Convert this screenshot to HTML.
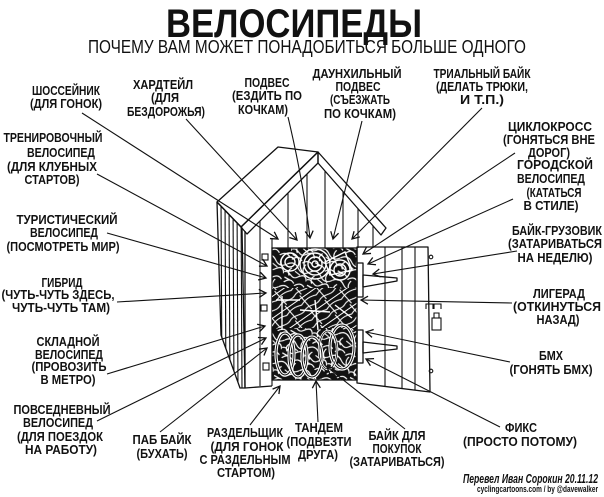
<!DOCTYPE html>
<html><head><meta charset="utf-8"><style>
html,body{margin:0;padding:0;background:#fff;}
svg{display:block;}
.t{font-family:"Liberation Sans","DejaVu Sans",sans-serif;font-weight:bold;font-size:12.5px;fill:#111;text-anchor:middle;}
.ln{stroke:#111;stroke-width:1.1;fill:none;}
.sh{stroke:#111;stroke-width:1.3;fill:none;stroke-linejoin:round;}
</style></head><body>
<svg width="604" height="497" viewBox="0 0 604 497" xmlns="http://www.w3.org/2000/svg">
<defs>
<marker id="a" viewBox="-9 -6 11 12" refX="0" refY="0" markerWidth="11" markerHeight="12" markerUnits="userSpaceOnUse" orient="auto">
<path d="M-7,-4 L0,0 L-7,4" fill="none" stroke="#111" stroke-width="1.3"/>
</marker>
<pattern id="p1" width="24" height="24" patternUnits="userSpaceOnUse" patternTransform="rotate(20)">
<rect width="24" height="24" fill="#121212"/>
<path d="M0,6 Q6,0 12,6 T24,6 M0,14 C5,10 9,20 14,15 S22,10 24,16 M3,24 Q8,17 13,22 M14,24 Q19,18 24,22 M18,0 Q15,6 20,10 M6,8 Q2,12 6,16 M10,10 L16,12 M2,19 L8,20" stroke="#fff" stroke-width="1.15" fill="none"/>
</pattern>
<pattern id="p2" width="18" height="18" patternUnits="userSpaceOnUse" patternTransform="rotate(-35)">
<rect width="18" height="18" fill="#121212"/>
<path d="M0,3 L18,3 M0,9 Q9,5 18,9 M0,15 C6,12 12,18 18,15 M4,0 L6,18" stroke="#fff" stroke-width="1.05" fill="none"/>
</pattern>
<clipPath id="op"><rect x="272" y="248" width="85" height="132"/></clipPath>
<clipPath id="lw"><polygon points="217,202 242,228 245,388 240,388 221,335"/></clipPath>
<clipPath id="dr"><polygon points="357,247 428,247 430,392 357,383"/></clipPath>
</defs>

<!-- Title -->
<text x="294" y="37" textLength="256" lengthAdjust="spacingAndGlyphs" style="font-family:'Liberation Sans',sans-serif;font-weight:bold;font-size:40px;text-anchor:middle;fill:#111">ВЕЛОСИПЕДЫ</text>
<text x="307" y="53" textLength="438" lengthAdjust="spacingAndGlyphs" style="font-family:'Liberation Sans',sans-serif;font-size:18px;text-anchor:middle;fill:#111">ПОЧЕМУ ВАМ МОЖЕТ ПОНАДОБИТЬСЯ БОЛЬШЕ ОДНОГО</text>

<!-- Shed: left wall -->
<polygon points="217,202 242,228 245,388 240,388 221,335" fill="#fff" class="sh"/>
<g clip-path="url(#lw)" class="ln">
<line x1="221" y1="200" x2="222" y2="390"/><line x1="225" y1="200" x2="226" y2="390"/>
<line x1="229" y1="200" x2="230" y2="390"/><line x1="233" y1="200" x2="234" y2="390"/>
<line x1="237" y1="200" x2="238" y2="390"/><line x1="241" y1="200" x2="242" y2="390"/>
</g>
<!-- roof left slab -->
<polygon points="217,202 278,147 318,152 241,227" fill="#fff" class="sh"/>
<!-- fascia boards -->
<polygon points="318,152 241,227 247,234 318,163" fill="#fff" class="sh"/>
<polygon points="318,152 386,228 381,235 318,163" fill="#fff" class="sh"/>
<!-- front gable planks -->
<g class="ln">
<line x1="260" y1="221" x2="260" y2="386"/>
<line x1="288" y1="193" x2="288" y2="248"/>
<line x1="307" y1="174" x2="307" y2="248"/>
<line x1="325" y1="171" x2="325" y2="248"/>
<line x1="343" y1="192" x2="343" y2="248"/>
<line x1="358" y1="209" x2="358" y2="248"/>
<line x1="373" y1="226" x2="373" y2="248"/>
</g>
<polyline points="245,231 245,388 272,386" class="sh"/>
<line x1="272" y1="238" x2="272" y2="386" class="ln"/>
<!-- hardware left panel -->
<g class="ln">
<rect x="262" y="254" width="6" height="6"/>
<rect x="261" y="305" width="6" height="6"/>
<rect x="263" y="363" width="6" height="7"/>
</g>

<!-- Opening with bikes -->
<rect x="272" y="248" width="85" height="132" fill="url(#p1)" stroke="#111" stroke-width="1.3"/>
<g clip-path="url(#op)">
<rect x="272" y="288" width="85" height="40" fill="url(#p2)"/>
<g stroke="#fff" stroke-width="1.4" fill="none">
<circle cx="315" cy="264" r="15"/><circle cx="315" cy="264" r="11"/><circle cx="315" cy="264" r="7"/><circle cx="315" cy="264" r="3"/>
<circle cx="290" cy="262" r="9"/><circle cx="290" cy="262" r="5"/>
<circle cx="340" cy="270" r="10"/><circle cx="340" cy="270" r="6"/>
<path d="M325,262 L345,252 L352,270 L330,275 Z"/>
<path d="M276,300 L300,300 M282,296 L282,330 M300,310 L330,312 M315,300 L318,330 M335,305 L352,318"/>
</g>
<g fill="none">
<ellipse cx="285" cy="354" rx="9" ry="21" stroke="#fff" stroke-width="3.2"/>
<ellipse cx="285" cy="354" rx="9" ry="21" stroke="#111" stroke-width="1"/>
<ellipse cx="298" cy="356" rx="9" ry="21" stroke="#fff" stroke-width="3.2"/>
<ellipse cx="298" cy="356" rx="9" ry="21" stroke="#111" stroke-width="1"/>
<ellipse cx="312" cy="357" rx="10" ry="20" stroke="#fff" stroke-width="3.2"/>
<ellipse cx="312" cy="357" rx="10" ry="20" stroke="#111" stroke-width="1"/>
<ellipse cx="342" cy="347" rx="12" ry="22" stroke="#fff" stroke-width="3.2"/>
<ellipse cx="342" cy="347" rx="12" ry="22" stroke="#111" stroke-width="1"/>
<ellipse cx="328" cy="350" rx="9" ry="19" stroke="#fff" stroke-width="2.4"/>
<ellipse cx="328" cy="350" rx="9" ry="19" stroke="#111" stroke-width="0.8"/>
</g>
</g>

<!-- Door -->
<polygon points="357,247 428,247 430,392 357,383" fill="#fff" class="sh"/>
<g clip-path="url(#dr)" class="ln">
<line x1="385" y1="247" x2="385" y2="395"/>
<line x1="402" y1="247" x2="402" y2="395"/>
<line x1="415" y1="247" x2="415" y2="395"/>
</g>
<!-- shelf brackets -->
<g fill="#fff" class="sh">
<rect x="357" y="263" width="6" height="34"/>
<polygon points="363,275 397,278 397,281 363,287"/>
<rect x="357" y="330" width="6" height="33"/>
<polygon points="363,342 397,346 397,349 363,353"/>
</g>
<!-- hinges / lock -->
<g class="ln">
<circle cx="431" cy="257" r="1.8"/>
<circle cx="431" cy="371" r="1.8"/>
<path d="M426,309 L426,304 L433,304 L433,309 M434,309 L434,304 L441,304 L441,309"/>
<rect x="432" y="318" width="9" height="12"/>
<path d="M434,318 L434,313 L439,313 L439,318"/>
</g>

<!-- connectors -->
<g class="ln" marker-end="url(#a)">
<line x1="82" y1="113" x2="278" y2="239"/>
<line x1="186" y1="119" x2="297" y2="240"/>
<path d="M288,117 Q303,180 310,238"/>
<line x1="362" y1="121" x2="333" y2="239"/>
<line x1="482" y1="108" x2="352" y2="239"/>
<line x1="515" y1="153" x2="363" y2="254"/>
<line x1="513" y1="199" x2="368" y2="264"/>
<line x1="517" y1="251" x2="373" y2="274"/>
<line x1="512" y1="303" x2="361" y2="300"/>
<line x1="510" y1="362" x2="366" y2="332"/>
<line x1="500" y1="427" x2="366" y2="359"/>
<line x1="405" y1="429" x2="327" y2="367"/>
<line x1="318" y1="422" x2="316" y2="381"/>
<line x1="250" y1="425" x2="280" y2="386"/>
<line x1="160" y1="432" x2="267" y2="348"/>
<line x1="97" y1="421" x2="266" y2="338"/>
<line x1="107" y1="374" x2="265" y2="326"/>
<line x1="117" y1="302" x2="266" y2="293"/>
<line x1="107" y1="233" x2="266" y2="278"/>
<line x1="97" y1="174" x2="267" y2="266"/>
</g>

<!-- labels -->
<text class="t" x="66" y="95" textLength="68" lengthAdjust="spacingAndGlyphs">ШОССЕЙНИК</text>
<text class="t" x="66" y="108" textLength="72" lengthAdjust="spacingAndGlyphs">(ДЛЯ ГОНОК)</text>

<text class="t" x="163" y="89" textLength="60" lengthAdjust="spacingAndGlyphs">ХАРДТЕЙЛ</text>
<text class="t" x="165" y="102" textLength="28" lengthAdjust="spacingAndGlyphs">(ДЛЯ</text>
<text class="t" x="166" y="116" textLength="78" lengthAdjust="spacingAndGlyphs">БЕЗДОРОЖЬЯ)</text>

<text class="t" x="267" y="87" textLength="45" lengthAdjust="spacingAndGlyphs">ПОДВЕС</text>
<text class="t" x="267" y="100" textLength="70" lengthAdjust="spacingAndGlyphs">(ЕЗДИТЬ ПО</text>
<text class="t" x="263" y="114" textLength="50" lengthAdjust="spacingAndGlyphs">КОЧКАМ)</text>

<text class="t" x="357" y="78" textLength="89" lengthAdjust="spacingAndGlyphs">ДАУНХИЛЬНЫЙ</text>
<text class="t" x="358" y="91" textLength="45" lengthAdjust="spacingAndGlyphs">ПОДВЕС</text>
<text class="t" x="360" y="104" textLength="60" lengthAdjust="spacingAndGlyphs">(СЪЕЗЖАТЬ</text>
<text class="t" x="360" y="118" textLength="72" lengthAdjust="spacingAndGlyphs">ПО КОЧКАМ)</text>

<text class="t" x="482" y="78" textLength="97" lengthAdjust="spacingAndGlyphs">ТРИАЛЬНЫЙ БАЙК</text>
<text class="t" x="482" y="91" textLength="92" lengthAdjust="spacingAndGlyphs">(ДЕЛАТЬ ТРЮКИ,</text>
<text class="t" x="482" y="104" textLength="44" lengthAdjust="spacingAndGlyphs">И Т.П.)</text>

<text class="t" x="550" y="131" textLength="84" lengthAdjust="spacingAndGlyphs">ЦИКЛОКРОСС</text>
<text class="t" x="549" y="144" textLength="92" lengthAdjust="spacingAndGlyphs">(ГОНЯТЬСЯ ВНЕ</text>
<text class="t" x="549" y="157" textLength="42" lengthAdjust="spacingAndGlyphs">ДОРОГ)</text>

<text class="t" x="555" y="169" textLength="76" lengthAdjust="spacingAndGlyphs">ГОРОДСКОЙ</text>
<text class="t" x="551" y="183" textLength="68" lengthAdjust="spacingAndGlyphs">ВЕЛОСИПЕД</text>
<text class="t" x="554" y="197" textLength="55" lengthAdjust="spacingAndGlyphs">(КАТАТЬСЯ</text>
<text class="t" x="551" y="210" textLength="55" lengthAdjust="spacingAndGlyphs">В СТИЛЕ)</text>

<text class="t" x="557" y="235" textLength="90" lengthAdjust="spacingAndGlyphs">БАЙК-ГРУЗОВИК</text>
<text class="t" x="555" y="248" textLength="94" lengthAdjust="spacingAndGlyphs">(ЗАТАРИВАТЬСЯ</text>
<text class="t" x="555" y="262" textLength="75" lengthAdjust="spacingAndGlyphs">НА НЕДЕЛЮ)</text>

<text class="t" x="559" y="298" textLength="52" lengthAdjust="spacingAndGlyphs">ЛИГЕРАД</text>
<text class="t" x="557" y="311" textLength="88" lengthAdjust="spacingAndGlyphs">(ОТКИНУТЬСЯ</text>
<text class="t" x="558" y="324" textLength="43" lengthAdjust="spacingAndGlyphs">НАЗАД)</text>

<text class="t" x="551" y="360" textLength="24" lengthAdjust="spacingAndGlyphs">БМХ</text>
<text class="t" x="551" y="374" textLength="83" lengthAdjust="spacingAndGlyphs">(ГОНЯТЬ БМХ)</text>

<text class="t" x="521" y="432" textLength="32" lengthAdjust="spacingAndGlyphs">ФИКС</text>
<text class="t" x="520" y="446" textLength="114" lengthAdjust="spacingAndGlyphs">(ПРОСТО ПОТОМУ)</text>

<text class="t" x="397" y="440" textLength="57" lengthAdjust="spacingAndGlyphs">БАЙК ДЛЯ</text>
<text class="t" x="397" y="453" textLength="49" lengthAdjust="spacingAndGlyphs">ПОКУПОК</text>
<text class="t" x="397" y="466" textLength="95" lengthAdjust="spacingAndGlyphs">(ЗАТАРИВАТЬСЯ)</text>

<text class="t" x="319" y="432" textLength="48" lengthAdjust="spacingAndGlyphs">ТАНДЕМ</text>
<text class="t" x="319" y="446" textLength="65" lengthAdjust="spacingAndGlyphs">(ПОДВЕЗТИ</text>
<text class="t" x="318" y="459" textLength="40" lengthAdjust="spacingAndGlyphs">ДРУГА)</text>

<text class="t" x="245" y="437" textLength="76" lengthAdjust="spacingAndGlyphs">РАЗДЕЛЬЩИК</text>
<text class="t" x="247" y="451" textLength="73" lengthAdjust="spacingAndGlyphs">(ДЛЯ ГОНОК</text>
<text class="t" x="245" y="464" textLength="91" lengthAdjust="spacingAndGlyphs">С РАЗДЕЛЬНЫМ</text>
<text class="t" x="246" y="477" textLength="58" lengthAdjust="spacingAndGlyphs">СТАРТОМ)</text>

<text class="t" x="162" y="444" textLength="59" lengthAdjust="spacingAndGlyphs">ПАБ БАЙК</text>
<text class="t" x="162" y="458" textLength="51" lengthAdjust="spacingAndGlyphs">(БУХАТЬ)</text>

<text class="t" x="68" y="346" textLength="63" lengthAdjust="spacingAndGlyphs">СКЛАДНОЙ</text>
<text class="t" x="69" y="359" textLength="68" lengthAdjust="spacingAndGlyphs">ВЕЛОСИПЕД</text>
<text class="t" x="69" y="371" textLength="75" lengthAdjust="spacingAndGlyphs">(ПРОВОЗИТЬ</text>
<text class="t" x="68" y="384" textLength="55" lengthAdjust="spacingAndGlyphs">В МЕТРО)</text>

<text class="t" x="62" y="414" textLength="97" lengthAdjust="spacingAndGlyphs">ПОВСЕДНЕВНЫЙ</text>
<text class="t" x="58" y="427" textLength="70" lengthAdjust="spacingAndGlyphs">ВЕЛОСИПЕД</text>
<text class="t" x="60" y="441" textLength="86" lengthAdjust="spacingAndGlyphs">(ДЛЯ ПОЕЗДОК</text>
<text class="t" x="61" y="454" textLength="72" lengthAdjust="spacingAndGlyphs">НА РАБОТУ)</text>

<text class="t" x="53" y="142" textLength="99" lengthAdjust="spacingAndGlyphs">ТРЕНИРОВОЧНЫЙ</text>
<text class="t" x="61" y="157" textLength="68" lengthAdjust="spacingAndGlyphs">ВЕЛОСИПЕД</text>
<text class="t" x="52" y="171" textLength="90" lengthAdjust="spacingAndGlyphs">(ДЛЯ КЛУБНЫХ</text>
<text class="t" x="52" y="184" textLength="55" lengthAdjust="spacingAndGlyphs">СТАРТОВ)</text>

<text class="t" x="67" y="224" textLength="101" lengthAdjust="spacingAndGlyphs">ТУРИСТИЧЕСКИЙ</text>
<text class="t" x="64" y="237" textLength="68" lengthAdjust="spacingAndGlyphs">ВЕЛОСИПЕД</text>
<text class="t" x="63" y="251" textLength="113" lengthAdjust="spacingAndGlyphs">(ПОСМОТРЕТЬ МИР)</text>

<text class="t" x="62" y="287" textLength="41" lengthAdjust="spacingAndGlyphs">ГИБРИД</text>
<text class="t" x="58" y="299" textLength="113" lengthAdjust="spacingAndGlyphs">(ЧУТЬ-ЧУТЬ ЗДЕСЬ,</text>
<text class="t" x="61" y="312" textLength="98" lengthAdjust="spacingAndGlyphs">ЧУТЬ-ЧУТЬ ТАМ)</text>

<!-- credits -->
<text x="598" y="483" textLength="135" lengthAdjust="spacingAndGlyphs" style="font-family:'Liberation Sans',sans-serif;font-weight:bold;font-style:italic;font-size:13px;text-anchor:end;fill:#111">Перевел Иван Сорокин 20.11.12</text>
<text x="598" y="492" textLength="121" lengthAdjust="spacingAndGlyphs" style="font-family:'Liberation Sans',sans-serif;font-weight:bold;font-size:9px;text-anchor:end;fill:#111">cyclingcartoons.com / by @davewalker</text>
</svg>
</body></html>
